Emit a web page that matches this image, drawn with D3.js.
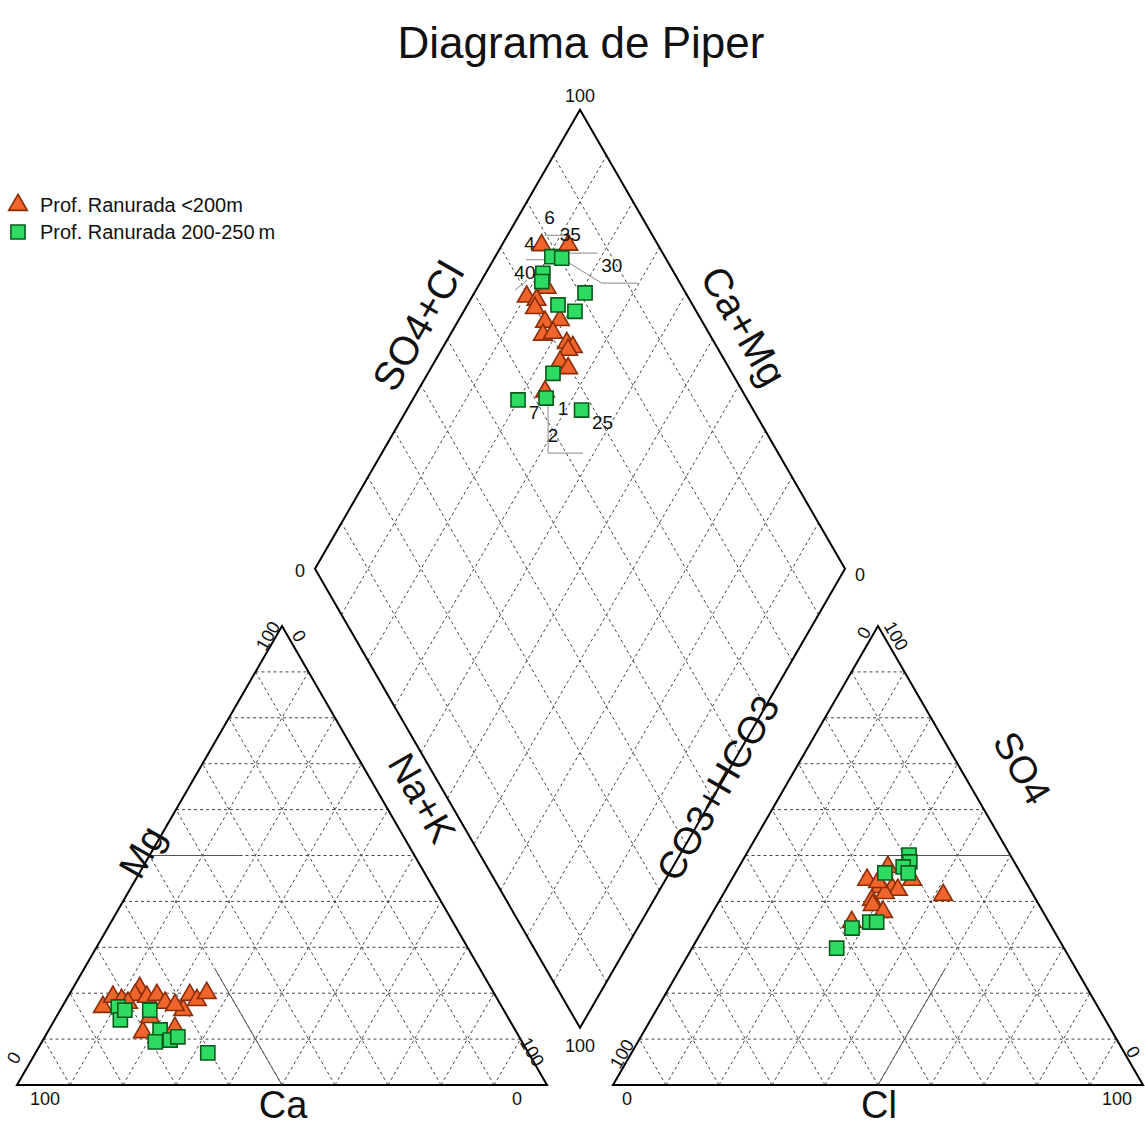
<!DOCTYPE html>
<html><head><meta charset="utf-8">
<script src="https://cdn.jsdelivr.net/npm/d3@7"></script>
<style>body{margin:0;background:#fff}text{font-family:Arial,"Liberation Sans",sans-serif;fill:#111}</style>
</head><body>
<svg id="chart" width="1145" height="1127"></svg>
<script>
// ---- data (percent) ----
const seriesNames = ["Prof. Ranurada <200m", "Prof. Ranurada 200-250\u2009m"];
// cations [Ca, Mg, Na+K]
const cationShallow = [[75.3,17.0,7.7],[72.3,19.2,8.5],[71.0,18.5,10.5],[66.3,21.1,12.6],[67.9,19.6,12.5],[65.9,19.2,14.9],[63.8,19.6,16.6],[63.1,17.9,19.0],[60.5,16.3,23.2],[57.6,19.6,22.8],[56.8,18.5,24.7],[54.2,20.0,25.8],[70.5,11.5,18.0],[64.0,12.4,23.6],[67.5,14.8,17.7],[70.1,17.9,12.0],[61.5,17.4,21.1]];
const cationDeep = [[72.4,17.0,10.6],[73.4,14.2,12.4],[66.8,16.3,16.9],[67.0,12.0,21.0],[66.2,9.8,24.0],[64.4,10.5,25.1],[60.5,7.0,32.5],[69.2,9.4,21.4],[71.5,16.3,12.2]];
// anions [CO3+HCO3, SO4, Cl]
const anionShallow = [[24.4,47.5,28.1],[29.7,44.7,25.6],[28.1,43.1,28.8],[25.9,42.9,31.2],[25.0,42.5,32.5],[21.2,44.7,34.1],[31.0,40.3,28.7],[31.4,39.2,29.4],[30.2,37.7,32.1],[17.0,41.4,41.6],[37.2,35.5,27.3],[27.8,41.8,30.4],[27.9,44.2,27.9]];
const anionDeep = [[19.1,50.1,30.8],[19.7,48.6,31.7],[21.5,47.5,31.0],[25.6,46.2,28.2],[21.2,46.2,32.6],[33.8,35.5,30.7],[32.5,35.5,32.0],[37.8,34.2,28.0],[42.9,29.8,27.3]];
// diamond [Ca+Mg, SO4+Cl]
const diamondShallow = [[92.5,78.0],[87.5,83.1],[86.9,74.3],[89.7,69.6],[87.5,71.1],[86.9,69.9],[83.5,70.3],[80.9,73.3],[82.5,68.5],[80.8,70.6],[77.1,72.1],[75.5,72.8],[76.1,71.6],[76.3,68.8],[74.1,69.6],[75.9,62.7]];
const diamondDeep = [[89.3,78.7],[87.3,80.4],[89.2,75.2],[88.5,74.1],[79.1,81.0],[82.9,74.6],[79.0,77.1],[76.4,66.2],[80.1,56.7],[75.0,62.2],[67.0,67.6]];
// sample labels in the diamond: [text, series, index, dx, dy]
const sampleLabels = [["6",0,0,8,-28],["4",0,0,-12,-2],["35",0,1,2,-10],["30",1,1,50,7],["40",1,2,-18,-1],["7",1,9,-12,14],["1",1,9,17,10],["25",1,10,21,12],["2",1,9,7,37]];
// leader lines: [series, index, offsets...]
const leaders = [[1,9,[[2,4],[2,55],[37,55]]],[1,1,[[6,-5],[36,-5]]],[1,1,[[6,4],[40,25],[76,25]]],[0,0,[[3,-10],[24,-10]]],[1,0,[[-26,3],[-6,3]]],[1,2,[[-28,17],[-16,7]]]];
const tickText = ["0","100"];

// ---- geometry ----
const S = 530, H = S*Math.sqrt(3)/2, x0 = 17, baseY = 1085, gap = 66;
const x1 = x0 + S + gap;
const Bx = x0 + S + gap/2, By = baseY - gap*Math.sqrt(3)/2;
const sx = d3.scaleLinear().domain([0,100]).range([0,S]);
const sy = d3.scaleLinear().domain([0,100]).range([0,H]);
const catXY = (ca,mg,na) => [x0 + sx(na + mg/2), baseY - sy(mg)];
const anXY = (hc,so,cl) => [x1 + sx(cl + so/2), baseY - sy(so)];
const diaXY = (u,v) => [Bx + sx((v-u)/2), By - sy(u+v)];

const svg = d3.select("#chart");
const gGrid = svg.append("g"), gFrame = svg.append("g"), gPts = svg.append("g"), gTxt = svg.append("g");
const line = d3.line();
function seg(g,a,b,dashed,color,w){
  g.append("path").attr("d",line([a,b])).attr("fill","none")
   .attr("stroke",color||(dashed?"#444":"#000")).attr("stroke-width",w||1)
   .attr("stroke-dasharray",dashed?"3,3":null);
}
const steps = d3.range(10,100,10);
steps.forEach(k=>{
  seg(gGrid,catXY(100-k,k,0),catXY(0,k,100-k),true);
  seg(gGrid,catXY(100-k,0,k),catXY(0,100-k,k),true);
  seg(gGrid,catXY(k,0,100-k),catXY(k,100-k,0),true);
  seg(gGrid,anXY(100-k,k,0),anXY(0,k,100-k),true);
  seg(gGrid,anXY(100-k,0,k),anXY(0,100-k,k),true);
  seg(gGrid,anXY(k,0,100-k),anXY(k,100-k,0),true);
  seg(gGrid,diaXY(k,0),diaXY(k,100),true);
  seg(gGrid,diaXY(0,k),diaXY(100,k),true);
});
// frames
gFrame.append("path").attr("d",line([catXY(100,0,0),catXY(0,0,100),catXY(0,100,0)])+"Z").attr("fill","none").attr("stroke","#000").attr("stroke-width",2);
gFrame.append("path").attr("d",line([anXY(100,0,0),anXY(0,0,100),anXY(0,100,0)])+"Z").attr("fill","none").attr("stroke","#000").attr("stroke-width",2);
gFrame.append("path").attr("d",line([diaXY(0,0),diaXY(100,0),diaXY(100,100),diaXY(0,100)])+"Z").attr("fill","none").attr("stroke","#000").attr("stroke-width",2);
// classification lines
seg(gFrame,catXY(50,50,0),catXY(33,50,17),false,"#555");
seg(gFrame,catXY(50,0,50),catXY(50,25,25),false,"#555");
seg(gFrame,anXY(0,50,50),anXY(25,50,25),false,"#555");
seg(gFrame,anXY(50,0,50),anXY(25,25,50),false,"#555");

// markers
const triSym = d3.symbol().type(d3.symbolTriangle).size(150)();
const sqSym = d3.symbol().type(d3.symbolSquare).size(200)();
const styles = [{d:triSym,fill:"#F0652B",stroke:"#8A2C08"},{d:sqSym,fill:"#2EDB62",stroke:"#0B5A1C"}];
function drawPts(data,fn,st){
  gPts.append("g").selectAll("path").data(data).join("path")
    .attr("d",st.d).attr("transform",d=>{const p=fn(...d);return `translate(${p[0]},${p[1]})`;})
    .attr("fill",st.fill).attr("stroke",st.stroke).attr("stroke-width",1.6);
}
const dSeries=[diamondShallow,diamondDeep];
// leader lines (under markers)
leaders.forEach(([s,i,offs])=>{
  const p=diaXY(...dSeries[s][i]);
  gGrid.append("path").attr("d",line(offs.map(o=>[p[0]+o[0],p[1]+o[1]]))).attr("fill","none").attr("stroke","#888").attr("stroke-width",1);
});
drawPts(cationShallow,catXY,styles[0]);
drawPts(anionShallow,anXY,styles[0]);
drawPts(diamondShallow,diaXY,styles[0]);
drawPts(cationDeep,catXY,styles[1]);
drawPts(anionDeep,anXY,styles[1]);
drawPts(diamondDeep,diaXY,styles[1]);

// sample labels
sampleLabels.forEach(([t,s,i,dx,dy])=>{
  const p=diaXY(...dSeries[s][i]);
  gTxt.append("text").attr("x",p[0]+dx).attr("y",p[1]+dy).attr("text-anchor","middle").attr("dominant-baseline","central").attr("font-size",19).text(t);
});

// title & legend
gTxt.append("text").attr("x",581).attr("y",58).attr("text-anchor","middle").attr("font-size",44).text("Diagrama de Piper");
seriesNames.forEach((n,i)=>{
  const y=205+i*27;
  gTxt.append("path").attr("d",styles[i].d).attr("transform",`translate(18,${y})`).attr("fill",styles[i].fill).attr("stroke",styles[i].stroke).attr("stroke-width",1.6);
  gTxt.append("text").attr("x",40).attr("y",y+7).attr("font-size",20).text(n);
});

// axis titles
function rtext(p,ang,txt,size,anchor){
  gTxt.append("text").attr("transform",`translate(${p[0]},${p[1]}) rotate(${ang})`).attr("text-anchor",anchor||"middle").attr("dominant-baseline","central").attr("font-size",size).text(txt);
}
rtext([418,326],-60,"SO4+Cl",40);
rtext([744,326],60,"Ca+Mg",40);
rtext([142,852],-60,"Mg",38);
rtext([422,798],60,"Na+K",38);
rtext([283,1105],0,"Ca",38);
rtext([718,788],-60,"CO3+HCO3",38);
rtext([1022,768],60,"SO4",38);
rtext([879,1105],0,"Cl",38);
// tick labels
const fs=18;
rtext([Bx,diaXY(100,100)[1]-14],0,tickText[1],fs);
rtext([Bx,By+18],0,tickText[1],fs);
rtext([diaXY(100,0)[0]-15,diaXY(100,0)[1]+2],0,tickText[0],fs);
rtext([diaXY(0,100)[0]+15,diaXY(0,100)[1]+6],0,tickText[0],fs);
rtext([45,1099],0,tickText[1],fs);
rtext([517,1099],0,tickText[0],fs);
rtext([627,1099],0,tickText[0],fs);
rtext([1117,1099],0,tickText[1],fs);
rtext([14,1058],-60,tickText[0],fs);
rtext([268,636],-60,tickText[1],fs);
rtext([299,636],60,tickText[0],fs);
rtext([532,1052],60,tickText[1],fs);
rtext([622,1054],-60,tickText[1],fs);
rtext([864,633],-60,tickText[0],fs);
rtext([896,636],60,tickText[1],fs);
rtext([1133,1052],60,tickText[0],fs);
</script>
</body></html>
